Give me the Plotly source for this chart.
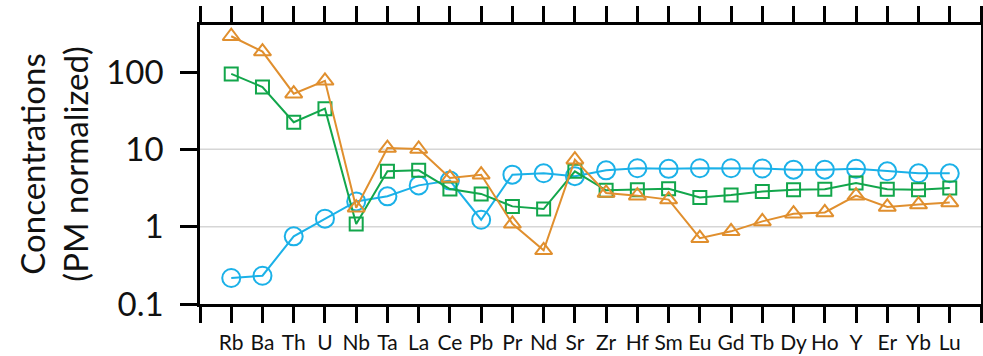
import plotly.graph_objects as go

# Trace elements, primitive-mantle normalized
elements = ["Rb", "Ba", "Th", "U", "Nb", "Ta", "La", "Ce", "Pb", "Pr", "Nd", "Sr",
            "Zr", "Hf", "Sm", "Eu", "Gd", "Tb", "Dy", "Ho", "Y", "Er", "Yb", "Lu"]

sample_circles = [0.217, 0.232, 0.75, 1.27, 2.12, 2.47, 3.42, 3.94, 1.23, 4.71, 4.9, 4.5,
                  5.35, 5.69, 5.6, 5.7, 5.7, 5.65, 5.46, 5.46, 5.6, 5.2, 4.9, 4.9]

sample_squares = [94.5, 64.0, 22.4, 33.6, 1.08, 5.2, 5.35, 3.07, 2.65, 1.83, 1.69, 5.2,
                  2.95, 3.01, 3.1, 2.39, 2.57, 2.84, 3.0, 3.05, 3.67, 3.05, 3.0, 3.16]

sample_triangles = [290, 184, 52.5, 77, 1.76, 10.4, 10.1, 4.27, 4.7, 1.09, 0.494, 7.36,
                    2.73, 2.52, 2.24, 0.71, 0.87, 1.17, 1.47, 1.53, 2.52, 1.8, 1.93, 2.06]

y_ticks = [0.1, 1, 10, 100]
y_tick_text = ["0.1", "1", "10", "100"]
grid_levels = [1, 10]

BLUE = "#1BB1E8"
GREEN = "#12A64B"
ORANGE = "#E08F2E"
FONT = "Lato"

x_idx = list(range(len(elements)))

fig = go.Figure()

for vals, color, symbol, size in [
    (sample_circles, BLUE, "circle-open", 18),
    (sample_squares, GREEN, "square-open", 13),
    (sample_triangles, ORANGE, "triangle-up-open", 15),
]:
    fig.add_trace(go.Scatter(
        x=x_idx, y=vals, mode="lines+markers",
        line=dict(color=color, width=2),
        marker=dict(symbol=symbol, size=size, color=color,
                    line=dict(color=color, width=2)),
        showlegend=False, cliponaxis=False,
    ))

for g in grid_levels:
    fig.add_shape(type="line", xref="paper", yref="y", x0=0, x1=1, y0=g, y1=g,
                  line=dict(color="#D6D6D6", width=1.5), layer="below")

fig.add_annotation(
    text="Concentrations<br>(PM normalized)",
    xref="paper", yref="paper", x=-0.188, y=0.5,
    xanchor="center", yanchor="middle", textangle=-90, showarrow=False,
    font=dict(family=FONT, size=33, color="#111111"),
)

fig.update_layout(
    width=983, height=356,
    margin=dict(l=200, r=2, t=25, b=52, autoexpand=False),
    paper_bgcolor="white", plot_bgcolor="white",
    font=dict(family=FONT, color="#111111"),
    xaxis=dict(
        range=[-1, 24],
        tickmode="array",
        tickvals=list(range(-1, 25)),
        ticktext=[""] + elements + [""],
        tickangle=0, automargin=False,
        ticks="outside", ticklen=16, tickwidth=2.5, tickcolor="black",
        showline=True, linecolor="black", linewidth=2.5, mirror="ticks",
        showgrid=False, zeroline=False,
        tickfont=dict(family=FONT, size=21, color="#111111"),
        ticklabelstandoff=2,
    ),
    yaxis=dict(
        type="log",
        range=[-1, 2.608],
        tickmode="array", tickvals=y_ticks, ticktext=y_tick_text,
        automargin=False,
        ticks="outside", ticklen=17, tickwidth=2.5, tickcolor="black",
        showline=True, linecolor="black", linewidth=2.5, mirror="ticks",
        showgrid=False, zeroline=False,
        tickfont=dict(family=FONT, size=33, color="#111111"),
        ticklabelstandoff=10,
    ),
)

fig.write_html("out.html")
